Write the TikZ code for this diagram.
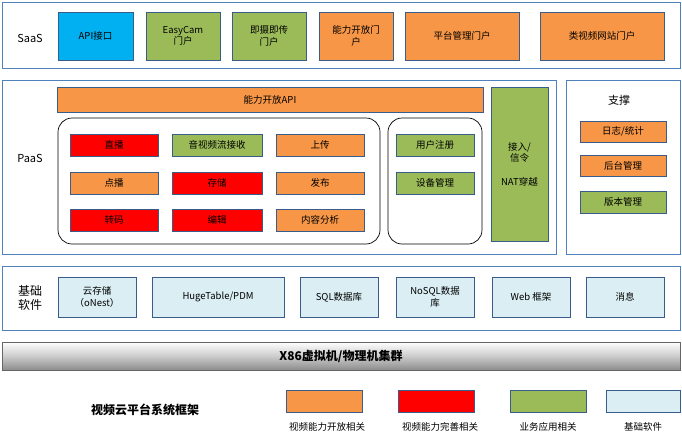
\documentclass[tikz,border=0pt]{standalone}
\usepackage{fontspec}
\setmainfont{Noto Sans CJK SC}
\definecolor{frm}{HTML}{4F81BD}
\definecolor{org}{HTML}{F79646}
\definecolor{rd}{HTML}{FF0000}
\definecolor{grn}{HTML}{9BBB59}
\definecolor{lb}{HTML}{DAEEF3}
\definecolor{bl}{HTML}{00B0F0}
\definecolor{bd}{HTML}{385D8A}
\begin{document}
\begin{tikzpicture}[x=1pt,y=-1pt,font=\fontsize{9.5}{11.5}\selectfont,
  frame/.style={draw=frm,line width=1pt},
  lbl/.style={font=\fontsize{11}{13}\selectfont},
  bx/.style={draw=bd,line width=0.6pt,align=center,inner sep=0pt},
  rb/.style={draw=black,line width=0.7pt,rounded corners=14pt}]
\useasboundingbox (0,0) rectangle (682,437);
\fill[white] (0,0) rectangle (682,437);
% frames
\draw[frame] (2,2) rectangle (680,68);
\node[lbl] (saas) at (30,38) {SaaS};
\draw[frame] (2,80) rectangle (556,254);
\node[lbl] (paas) at (30,158) {PaaS};
\draw[frame] (566,80) rectangle (680,254);
\node[lbl] (zc) at (619,100) {支撑};
\draw[frame] (2,266) rectangle (680,330);
\node[lbl,align=center,font=\fontsize{12}{14}\selectfont] (jc) at (30,298) {基础\\软件};
\newcommand{\bxx}[7]{\node[bx,fill=#6,minimum width=#3-#2,minimum height=#5-#4] (#1) at ({(#2+#3)/2},{(#4+#5)/2}) {#7};}
% SaaS
\bxx{s1}{58}{133}{12}{60}{bl}{API接口}
\bxx{s2}{146}{220}{12}{60}{grn}{EasyCam\\门户}
\bxx{s3}{232}{306}{12}{60}{grn}{即摄即传\\门户}
\bxx{s4}{319}{393}{12}{60}{org}{能力开放门\\户}
\bxx{s5}{405}{519}{12}{60}{org}{平台管理门户}
\bxx{s6}{540}{664}{12}{60}{org}{类视频网站门户}
% PaaS
\bxx{api}{57}{483}{87}{112}{org}{能力开放API}
\draw[rb] (58,118) rectangle (380,244);
\draw[rb] (388,118) rectangle (482,244);
\bxx{p1}{70}{158}{134}{156}{rd}{直播}
\bxx{p2}{172}{262}{134}{156}{grn}{音视频流接收}
\bxx{p3}{276}{364}{134}{156}{org}{上传}
\bxx{p4}{70}{158}{172}{194}{org}{点播}
\bxx{p5}{172}{262}{172}{194}{rd}{存储}
\bxx{p6}{276}{364}{172}{194}{org}{发布}
\bxx{p7}{70}{158}{209}{231}{rd}{转码}
\bxx{p8}{172}{262}{209}{231}{rd}{编辑}
\bxx{p9}{276}{364}{209}{231}{org}{内容分析}
\bxx{u1}{396}{474}{134}{156}{grn}{用户注册}
\bxx{u2}{396}{474}{172}{194}{grn}{设备管理}
\bxx{nat}{491}{548}{87}{241}{grn}{接入/\\信令\\[12pt]NAT穿越}
\bxx{z1}{580}{666}{121}{142}{org}{日志/统计}
\bxx{z2}{580}{666}{155}{176}{org}{后台管理}
\bxx{z3}{580}{666}{191}{213}{grn}{版本管理}
% base
\bxx{b1}{58}{136}{277}{317}{lb}{云存储\\（oNest）}
\bxx{b2}{152}{284}{277}{317}{lb}{HugeTable/PDM}
\bxx{b3}{300}{378}{277}{317}{lb}{SQL数据库}
\bxx{b4}{396}{474}{277}{317}{lb}{NoSQL数据\\库}
\bxx{b5}{492}{570}{277}{317}{lb}{Web 框架}
\bxx{b6}{586}{664}{277}{317}{lb}{消息}
% x86
\shade[top color=white,bottom color=black!45,middle color=black!20] (2,342) rectangle (680,370);
\draw[black!60] (2,342) rectangle (680,370);
\node[font=\fontsize{12}{14}\selectfont\bfseries] (x86) at (341,356) {X86虚拟机/物理机集群};
% legend
\node[font=\fontsize{12}{14}\selectfont\bfseries] (title) at (145,410) {视频云平台系统框架};
\bxx{l1}{286}{362}{390}{412}{org}{}
\bxx{l2}{398}{474}{390}{412}{rd}{}
\bxx{l3}{510}{586}{390}{412}{grn}{}
\bxx{l4}{606}{680}{390}{412}{lb}{}
\node (t1) at (327,427) {视频能力开放相关};
\node (t2) at (440,427) {视频能力完善相关};
\node (t3) at (548,427) {业务应用相关};
\node (t4) at (643,427) {基础软件};
\end{tikzpicture}
\end{document}
